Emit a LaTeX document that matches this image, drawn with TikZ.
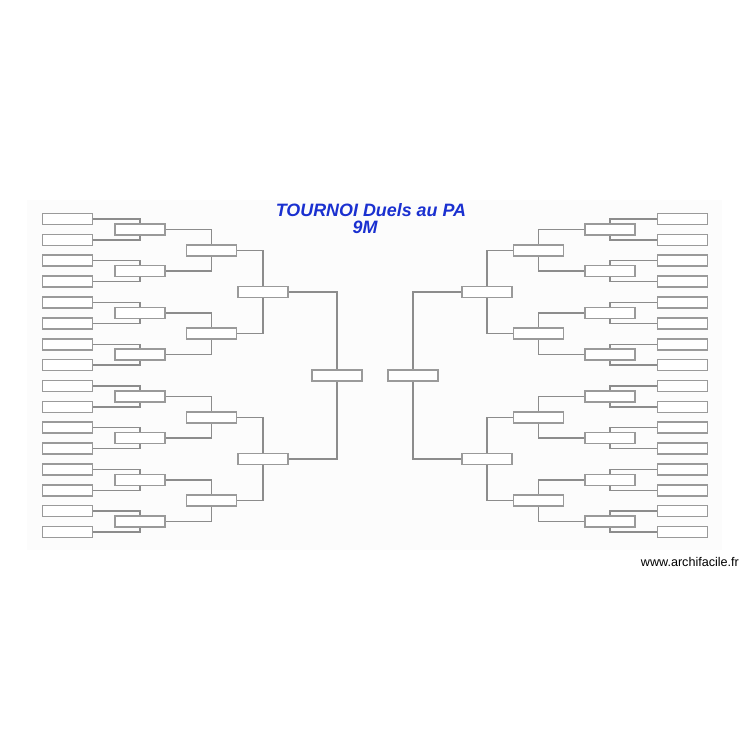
\documentclass[tikz,border=0pt]{standalone}
\usepackage{fontspec}
\setmainfont{Liberation Sans}
\definecolor{boxgray}{HTML}{9A9A9A}
\definecolor{linegray}{HTML}{8C8C8C}
\definecolor{titleblue}{HTML}{1A30D0}
\definecolor{bgfaint}{HTML}{FCFCFC}
\pgfdeclarelayer{bgzero}
\pgfdeclarelayer{bgone}
\pgfsetlayers{bgzero,bgone,main}
\tikzset{
  box/.style={draw=boxgray, line width=1.6pt, fill=white, minimum width=50pt, minimum height=11pt, inner sep=0pt, outer sep=0pt},
  conn/.style={draw=linegray, line width=1.4pt},
}
\begin{document}
\begin{tikzpicture}[x=1pt,y=-1pt]
\useasboundingbox (0,0) rectangle (750,750);
\begin{pgfonlayer}{bgzero}
\fill[white] (0,0) rectangle (750,750);
\fill[bgfaint] (27,200) rectangle (722,550);
\end{pgfonlayer}
% round 1
\foreach \i in {0,...,15}{
  \pgfmathsetmacro\yy{219+20.87*\i}
  \node[box] (L1-\i) at (67.5,\yy) {};
  \node[box] (R1-\i) at (682.5,\yy) {};
}
% round 2
\foreach \i in {0,...,7}{
  \pgfmathsetmacro\yy{219+20.87*(2*\i+0.5)}
  \node[box] (L2-\i) at (140,\yy) {};
  \node[box] (R2-\i) at (610,\yy) {};
}
% round 3
\foreach \i in {0,...,3}{
  \pgfmathsetmacro\yy{219+20.87*(4*\i+1.5)}
  \node[box] (L3-\i) at (211.5,\yy) {};
  \node[box] (R3-\i) at (538.5,\yy) {};
}
% round 4
\foreach \i in {0,1}{
  \pgfmathsetmacro\yy{219+20.87*(8*\i+3.5)}
  \node[box] (L4-\i) at (263,\yy) {};
  \node[box] (R4-\i) at (487,\yy) {};
}
% semifinals
\node[box] (L5) at (337,375.5) {};
\node[box] (R5) at (413,375.5) {};
% connectors
\begin{pgfonlayer}{bgone}
\foreach \i in {0,...,15}{
  \pgfmathtruncatemacro\j{\i/2}
  \draw[conn] (L1-\i.east) -| (L2-\j);
  \draw[conn] (R1-\i.west) -| (R2-\j);
}
\foreach \i in {0,...,7}{
  \pgfmathtruncatemacro\j{\i/2}
  \draw[conn] (L2-\i.east) -| (L3-\j);
  \draw[conn] (R2-\i.west) -| (R3-\j);
}
\foreach \i in {0,...,3}{
  \pgfmathtruncatemacro\j{\i/2}
  \draw[conn] (L3-\i.east) -| (L4-\j);
  \draw[conn] (R3-\i.west) -| (R4-\j);
}
\foreach \i in {0,1}{
  \draw[conn] (L4-\i.east) -| (L5);
  \draw[conn] (R4-\i.west) -| (R5);
}
\end{pgfonlayer}
% title
\node[anchor=base, text=titleblue, font=\fontsize{17.9}{20}\selectfont\bfseries\itshape, inner sep=0pt] (title) at (371,216) {TOURNOI Duels au PA};
\node[anchor=base, text=titleblue, font=\fontsize{17.9}{20}\selectfont\bfseries\itshape, inner sep=0pt] (sub) at (365,233) {9M};
\node[anchor=base west, text=black, font=\fontsize{12.6}{14}\selectfont, inner sep=0pt] (site) at (640.7,566.5) {www.archifacile.fr};
\end{tikzpicture}
\end{document}
